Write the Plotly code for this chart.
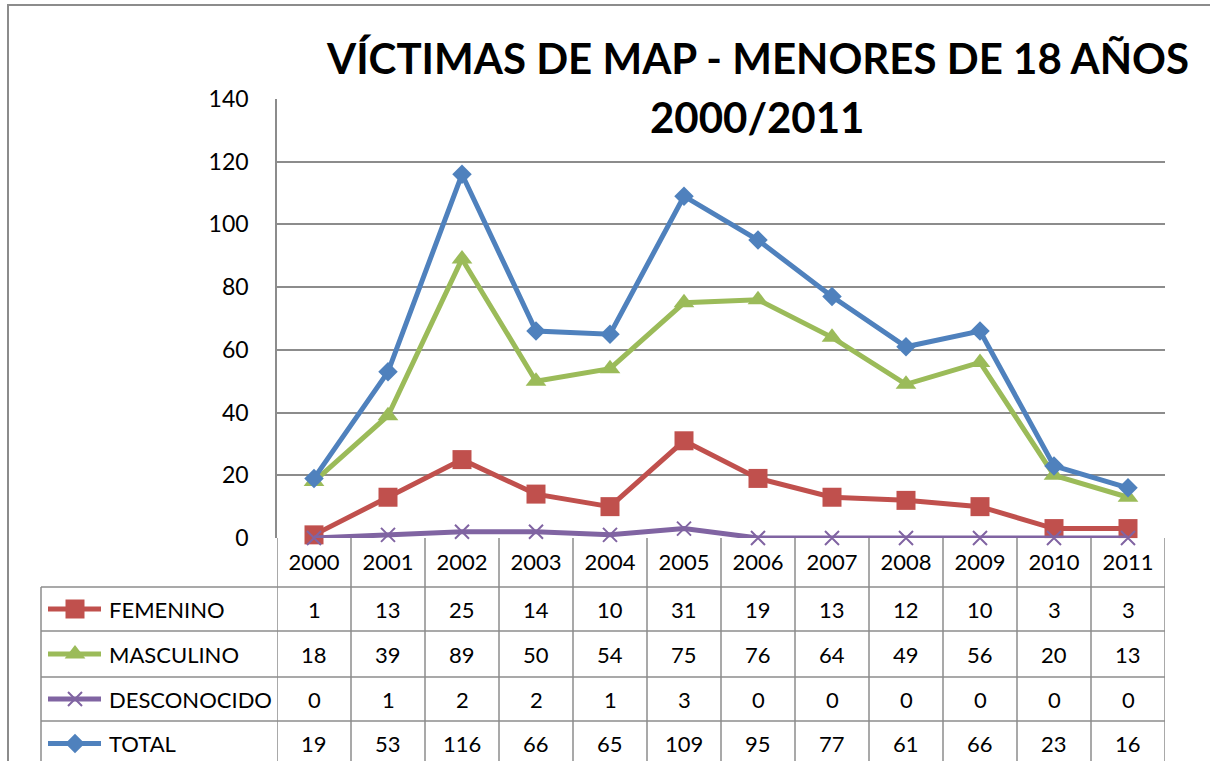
import plotly.graph_objects as go

W, H = 1210, 761

years = ["2000", "2001", "2002", "2003", "2004", "2005", "2006", "2007", "2008", "2009", "2010", "2011"]
femenino = [1, 13, 25, 14, 10, 31, 19, 13, 12, 10, 3, 3]
masculino = [18, 39, 89, 50, 54, 75, 76, 64, 49, 56, 20, 13]
desconocido = [0, 1, 2, 2, 1, 3, 0, 0, 0, 0, 0, 0]
total = [19, 53, 116, 66, 65, 109, 95, 77, 61, 66, 23, 16]

series_names = ["FEMENINO", "MASCULINO", "DESCONOCIDO", "TOTAL"]
series_values = [femenino, masculino, desconocido, total]
colors = ["#C0504D", "#9BBB59", "#8064A2", "#4F81BD"]
symbols = ["square", "triangle-up", "x-thin", "diamond"]
msizes = [19, 18, 14, 15]

title_l1 = "VÍCTIMAS DE MAP - MENORES DE 18 AÑOS"
title_l2 = "2000/2011"

FONT = "Lato"
GRID = "#8C8C8C"


def px(x):
    return x / W


def py(y):
    return 1 - y / H


def make_marker(s, ms, c):
    m = dict(symbol=s, size=ms, color=c)
    if s == "x-thin":
        m["line"] = dict(color=c, width=2)
    return m


fig = go.Figure()

# main data lines
for name, vals, c, s, ms in zip(series_names, series_values, colors, symbols, msizes):
    fig.add_trace(go.Scatter(
        x=years, y=vals, mode="lines+markers", name=name,
        line=dict(color=c, width=5), marker=make_marker(s, ms, c),
        xaxis="x", yaxis="y", showlegend=False, cliponaxis=False,
    ))

# plot area geometry (pixels)
PL, PR, PT, PB = 277, 1165, 99, 538
row_bounds = [587, 631, 677, 721, 766]
row_centers = [(row_bounds[i] + row_bounds[i + 1]) / 2 for i in range(4)]
TL = 41

# legend glyphs in table (overlay pixel axes)
for name, c, s, ms, yc in zip(series_names, colors, symbols, msizes, row_centers):
    fig.add_trace(go.Scatter(
        x=[48, 101], y=[yc, yc], mode="lines", line=dict(color=c, width=5),
        xaxis="x2", yaxis="y2", showlegend=False, hoverinfo="skip",
    ))
    fig.add_trace(go.Scatter(
        x=[75], y=[yc], mode="markers", marker=make_marker(s, ms, c),
        xaxis="x2", yaxis="y2", showlegend=False, hoverinfo="skip",
    ))

# outer chart border (drawn on pixel overlay axes)
fig.add_trace(go.Scatter(
    x=[W + 5, 8, 8], y=[5, 5, H + 5], mode="lines", line=dict(color=GRID, width=2),
    xaxis="x2", yaxis="y2", showlegend=False, hoverinfo="skip", cliponaxis=False,
))

shapes = []
line_style = dict(color=GRID, width=1.5)
# table horizontal lines
for yb in row_bounds[:-1]:
    shapes.append(dict(type="line", xref="paper", yref="paper", x0=px(TL), x1=px(PR), y0=py(yb), y1=py(yb),
                       line=line_style))
# table left border
shapes.append(dict(type="line", xref="paper", yref="paper", x0=px(TL), x1=px(TL), y0=py(row_bounds[0]),
                   y1=py(H + 20), line=line_style))
# column separators
for k in range(len(years) + 1):
    shapes.append(dict(type="line", xref="x", yref="paper", x0=k - 0.5, x1=k - 0.5,
                       y0=py(PB), y1=py(H + 20), line=line_style))

annotations = []
# title
for txt, yc in ((title_l1, 58), (title_l2, 117)):
    annotations.append(dict(text="<b>" + txt + "</b>", x=px(757), y=py(yc), xref="paper", yref="paper",
                            xanchor="center", yanchor="middle", showarrow=False,
                            font=dict(family=FONT, size=42, color="#000000")))
# table text
for name, vals, yc in zip(series_names, series_values, row_centers):
    annotations.append(dict(text=name, x=px(107), y=py(yc), xref="paper", yref="paper",
                            xanchor="left", yanchor="middle", showarrow=False,
                            font=dict(family=FONT, size=22, color="#000000")))
    for i, v in enumerate(vals):
        annotations.append(dict(text=str(v), x=i, y=py(yc), xref="x", yref="paper",
                                xanchor="center", yanchor="middle", showarrow=False,
                                font=dict(family=FONT, size=22, color="#000000")))

fig.update_layout(
    width=W, height=H,
    margin=dict(l=0, r=0, t=0, b=0),
    paper_bgcolor="white", plot_bgcolor="rgba(0,0,0,0)",
    font=dict(family=FONT, size=22, color="#000000"),
    xaxis=dict(domain=[px(PL), px(PR)], type="category", range=[-0.5, 11.5],
               showgrid=False, showline=False, zeroline=False, ticks="", ticklabelstandoff=9,
               tickfont=dict(family=FONT, size=22, color="#000000"), automargin=False, fixedrange=True),
    yaxis=dict(domain=[py(PB), py(PT)], range=[0, 140], dtick=20, showgrid=True, gridcolor=GRID, gridwidth=1.5,
               showline=True, linecolor=GRID, linewidth=1.5, zeroline=False, ticks="", ticklabelstandoff=22,
               tickfont=dict(family=FONT, size=23, color="#000000"), automargin=False, fixedrange=True),
    xaxis2=dict(domain=[0, 1], range=[0, W], visible=False, anchor="y2", fixedrange=True),
    yaxis2=dict(domain=[0, 1], range=[H, 0], visible=False, anchor="x2", fixedrange=True),
    shapes=shapes,
    annotations=annotations,
)

fig.write_html("out.html", config={"displayModeBar": False},
               post_script="document.body.style.margin='0';document.body.style.overflow='hidden';")
